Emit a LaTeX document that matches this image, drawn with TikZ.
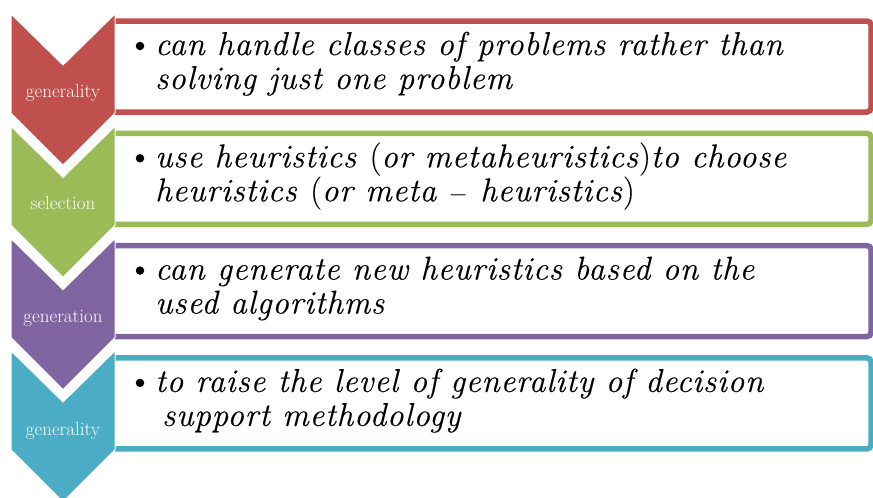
\documentclass[tikz,border=0pt]{standalone}
\usepackage{fontspec}
\newfontfamily\bodyfnt[LetterSpace=2.5,FakeBold=0.3]{Latin Modern Roman}
\definecolor{cred}{HTML}{C0504D}
\definecolor{cgreen}{HTML}{9BBB59}
\definecolor{cpurple}{HTML}{8064A2}
\definecolor{cteal}{HTML}{4BACC6}
\begin{document}
\begin{tikzpicture}[x=1pt,y=-1pt]
\tikzset{
  chev/.style={fill=#1, draw=white, line width=1pt},
  itembox/.style={draw=#1, line width=5.5pt, fill=white, rounded corners=4pt},
  lab/.style={text=white, font=\fontsize{19}{22}\selectfont, anchor=base, inner sep=0pt},
  txt/.style={anchor=base west, inner sep=0pt, font=\bodyfnt\fontsize{33}{34}\selectfont\itshape},
  bulletmark/.style={fill=black, circle, inner sep=0pt, minimum size=8.5pt}
}
\useasboundingbox (0,0) rectangle (873,498);
\foreach \t/\c in {14/cred, 126.3/cgreen, 238.6/cpurple, 350.9/cteal}{
  \draw[itembox=\c] (112,\t+7) rectangle (871,\t+98);
}
\foreach \t/\c in {350.9/cteal, 238.6/cpurple, 126.3/cgreen, 14/cred}{
  \draw[chev=\c] (11,\t) -- (63,\t+51) -- (115,\t) -- (115,\t+99) -- (63,\t+151) -- (11,\t+99) -- cycle;
}
\node[lab] (l1) at (63,97) {generality};
\node[lab] (l2) at (63,209) {selection};
\node[lab] (l3) at (63,322) {generation};
\node[lab] (l4) at (63,435) {generality};

\node[bulletmark] (p1) at (140,46) {};
\node[bulletmark] (p2) at (140,158.3) {};
\node[bulletmark] (p3) at (140,270.6) {};
\node[bulletmark] (p4) at (140,382.9) {};

\node[txt] (a1) at (155,55) {can handle classes of problems rather than};
\node[txt] (a2) at (155,89) {solving just one problem};
\node[txt] (b1) at (155,167.3) {use heuristics \textup{(}or metaheuristics\textup{)}to choose};
\node[txt] (b2) at (155,201.3) {heuristics \textup{(}or meta $-$ heuristics\textup{)}};
\node[txt] (c1) at (155,279.6) {can generate new heuristics based on the};
\node[txt] (c2) at (155,313.6) {used algorithms};
\node[txt] (d1) at (155,391.9) {to raise the level of generality of decision};
\node[txt] (d2) at (162,425.9) {support methodology};
\end{tikzpicture}
\end{document}
